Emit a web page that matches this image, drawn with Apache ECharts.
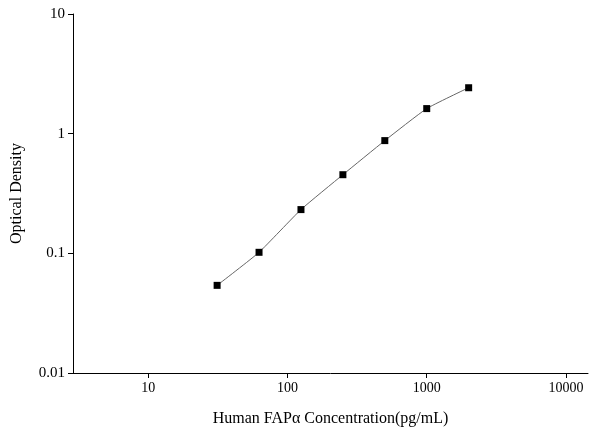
<!DOCTYPE html>
<html><head><meta charset="utf-8">
<script src="https://cdn.jsdelivr.net/npm/echarts@6/dist/echarts.min.js"></script>
<style>html,body{margin:0;padding:0;background:#fff}#c{width:600px;height:444px}</style>
</head><body><div id="c"></div>
<script>
const concentrations = [31.25, 62.5, 125, 250, 500, 1000, 2000];
const odValues = [0.054, 0.102, 0.232, 0.454, 0.875, 1.62, 2.42];
const xTickLabels = [10, 100, 1000, 10000];
const xTitle = 'Human FAPα Concentration(pg/mL)';
const yTitle = 'Optical Density';

const data = concentrations.map((c, i) => [Math.log10(c), odValues[i]]);
const xTickPos = xTickLabels.map(v => Math.log10(v));
const font = 'Liberation Serif';
const chart = echarts.init(document.getElementById('c'));
chart.setOption({
  animation: false,
  grid: {left: 73, right: 12, top: 14, bottom: 71},
  xAxis: {
    type: 'value', min: 0.46, max: 4.158,
    axisLine: {lineStyle: {color: '#000', width: 1}},
    axisTick: {customValues: xTickPos, lineStyle: {color: '#000'}, length: 5},
    splitLine: {show: false},
    axisLabel: {customValues: xTickPos, color: '#000', fontFamily: font, fontSize: 14,
      formatter: v => String(Math.round(Math.pow(10, v)))},
    name: xTitle, nameLocation: 'middle', nameGap: 38,
    nameTextStyle: {color: '#000', fontFamily: font, fontSize: 16}
  },
  yAxis: {
    type: 'log', logBase: 10, min: 0.01, max: 10,
    axisLine: {show: true, lineStyle: {color: '#000', width: 1}},
    axisTick: {show: true, lineStyle: {color: '#000'}, length: 5},
    splitLine: {show: false},
    axisLabel: {color: '#000', fontFamily: font, fontSize: 15,
      formatter: v => String(Number(v.toPrecision(3)))},
    name: yTitle, nameLocation: 'middle', nameGap: 48,
    nameTextStyle: {color: '#000', fontFamily: font, fontSize: 16}
  },
  series: [{
    type: 'line', data: data, smooth: 0.15,
    symbol: 'rect', symbolSize: 7,
    itemStyle: {color: '#000'},
    lineStyle: {color: '#666', width: 1}
  }]
});
</script></body></html>
